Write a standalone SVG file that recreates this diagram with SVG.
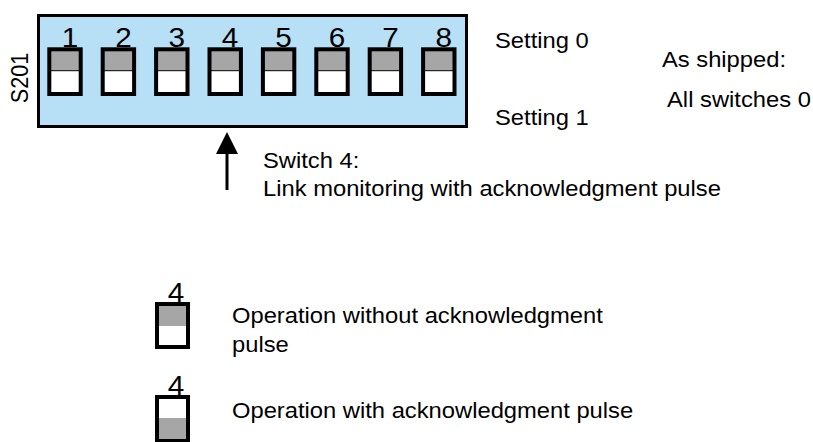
<svg xmlns="http://www.w3.org/2000/svg" width="813" height="442" viewBox="0 0 813 442">
<style>
text{font-family:"Liberation Sans",Arial,sans-serif;fill:#000}
.t{font-size:21.6px}
.n{font-size:27px;text-anchor:middle}
.sw{stroke:#000;stroke-width:4;fill:none}
.g{fill:#a6a6a6}
.w{fill:#fff}
</style>
<defs>
<g id="swA">
<rect class="g" x="0" y="0" width="31.4" height="21.4"/>
<rect class="w" x="0" y="21.4" width="31.4" height="23.3"/>
<line x1="0" y1="21.4" x2="31.4" y2="21.4" stroke="#000" stroke-width="1"/>
<rect class="sw" x="0" y="0" width="31.4" height="44.7"/>
</g>
</defs>
<g id="board">
<rect x="38.5" y="15.5" width="428" height="111" fill="#b7dff6" stroke="#000" stroke-width="3"/>
<text class="t" transform="scale(1.1,1) translate(25.4,78) rotate(-90)" text-anchor="middle">S201</text>
</g>
<g id="switches">
<use href="#swA" x="49.3" y="49.3"/>
<use href="#swA" x="102.7" y="49.3"/>
<use href="#swA" x="156.1" y="49.3"/>
<use href="#swA" x="209.5" y="49.3"/>
<use href="#swA" x="262.9" y="49.3"/>
<use href="#swA" x="316.3" y="49.3"/>
<use href="#swA" x="369.7" y="49.3"/>
<use href="#swA" x="423.1" y="49.3"/>
<g transform="scale(1.1,1)">
<text class="n" x="63.6" y="47">1</text>
<text class="n" x="112.2" y="47">2</text>
<text class="n" x="160.7" y="47">3</text>
<text class="n" x="209.1" y="47">4</text>
<text class="n" x="257.8" y="47">5</text>
<text class="n" x="306.4" y="47">6</text>
<text class="n" x="354.9" y="47">7</text>
<text class="n" x="403.5" y="47">8</text>
</g>
</g>
<g id="labels" transform="scale(1.1,1)">
<text class="t" x="450" y="48">Setting 0</text>
<text class="t" x="450" y="125">Setting 1</text>
<text class="t" x="601.8" y="67">As shipped:</text>
<text class="t" x="606.4" y="107">All switches 0</text>
<text class="t" x="239.1" y="168">Switch 4:</text>
<text class="t" x="239.1" y="196">Link monitoring with acknowledgment pulse</text>
</g>
<g id="connectors">
<line x1="227" y1="150" x2="227" y2="190" stroke="#000" stroke-width="3"/>
<polygon points="227,132 216,154 238,154" fill="#000"/>
</g>
<g id="legend-off">
<rect class="g" x="157" y="304" width="31" height="22"/>
<rect class="w" x="157" y="326" width="31" height="21"/>
<rect class="sw" x="157" y="304" width="31" height="43"/>
<g transform="scale(1.1,1)">
<text class="n" x="160" y="302">4</text>
<text class="t" x="210.9" y="323">Operation without acknowledgment</text>
<text class="t" x="210.9" y="352">pulse</text>
</g>
</g>
<g id="legend-on">
<rect class="w" x="157" y="397" width="31" height="21"/>
<rect class="g" x="157" y="418" width="31" height="23"/>
<rect class="sw" x="157" y="397" width="31" height="44"/>
<g transform="scale(1.1,1)">
<text class="n" x="160" y="395">4</text>
<text class="t" x="210.9" y="418">Operation with acknowledgment pulse</text>
</g>
</g>
</svg>
